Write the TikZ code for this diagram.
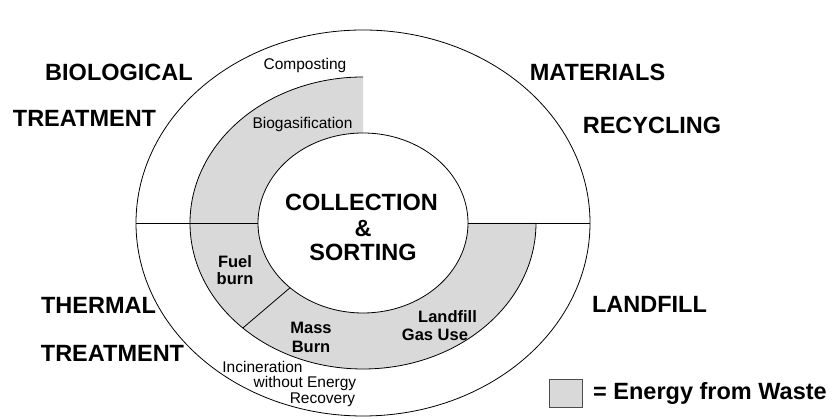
\documentclass[tikz,border=0pt]{standalone}
\usepackage{fontspec}
\setmainfont{Liberation Sans}
\usetikzlibrary{calc}
\definecolor{efw}{RGB}{217,217,217}
\tikzset{
  big/.style={font=\fontsize{23.5}{26}\selectfont\bfseries, inner sep=0pt},
  small/.style={font=\fontsize{15.5}{17}\selectfont, inner sep=0pt},
  smallbold/.style={font=\fontsize{16.5}{18}\selectfont\bfseries, inner sep=0pt},
  ring/.style={draw=black, line width=0.8pt},
}
\begin{document}
\begin{tikzpicture}[x=1pt,y=1pt]
\useasboundingbox (0,0) rectangle (838,419);
\coordinate (C) at (363,196);
% gray energy-from-waste regions
\fill[efw] ($(C)+(0,146)$) arc[start angle=90, end angle=180, x radius=173pt, y radius=146pt]
  -- ($(C)+(-105,0)$) arc[start angle=180, end angle=90, x radius=105pt, y radius=90pt] -- cycle;
\fill[efw] ($(C)+(-173,0)$) arc[start angle=180, end angle=360, x radius=173pt, y radius=146pt]
  -- ($(C)+(105,0)$) arc[start angle=360, end angle=180, x radius=105pt, y radius=90pt] -- cycle;
% rings
\draw[ring] (C) ellipse[x radius=227pt, y radius=193pt];
\draw[ring] (C) ellipse[x radius=105pt, y radius=90pt];
\draw[ring] ($(C)+(0,146)$) arc[start angle=90, end angle=360, x radius=173pt, y radius=146pt];
% dividers
\coordinate (oL) at ($(C)+(-227,0)$);
\coordinate (iL) at ($(C)+(-105,0)$);
\coordinate (iR) at ($(C)+(105,0)$);
\coordinate (oR) at ($(C)+(227,0)$);
\coordinate (dI) at ($(C)+(226:105pt and 90pt)$);
\coordinate (dM) at ($(C)+(226:173pt and 146pt)$);
\draw[ring] (oL) -- (iL);
\draw[ring] (iR) -- (oR);
\draw[ring] (dI) -- (dM);
% sector labels
\node[big] (bio) at (119,347) {BIOLOGICAL};
\node[big] (tr1) at (84.5,300.5) {TREATMENT};
\node[big] (mat) at (597.5,347) {MATERIALS};
\node[big] (rec) at (652,293.5) {RECYCLING};
\node[big] (the) at (98.5,114) {THERMAL};
\node[big] (tr2) at (112.5,65.5) {TREATMENT};
\node[big] (lan) at (649.5,115) {LANDFILL};
% centre
\node[big] (col) at (361.5,217) {COLLECTION};
\node[big] (amp) at (363,191) {\&};
\node[big] (sor) at (363,167) {SORTING};
% ring labels
\node[small] (comp) at (305,353) {Composting};
\node[small] (biog) at (302.5,294) {Biogasification};
\node[smallbold, align=center] (fuel) at (235,149) {Fuel\\[-1pt]burn};
\node[smallbold, align=center] (mass) at (311,82) {Mass\\[1pt]Burn};
\node[smallbold] (lf1) at (447.5,102) {Landfill};
\node[smallbold] (lf2) at (435,84) {Gas Use};
\node[small] (inc1) at (262.5,52) {Incineration};
\node[small] (inc2) at (305,36) {without Energy};
\node[small] (inc3) at (322.5,19) {Recovery};
% legend
\node[draw=black!70, fill=efw, line width=0.8pt, minimum width=33pt, minimum height=28pt, inner sep=0pt] (key) at (565.5,26) {};
\node[big, anchor=west] (keytxt) at (593,26) {= Energy from Waste};
\end{tikzpicture}
\end{document}
